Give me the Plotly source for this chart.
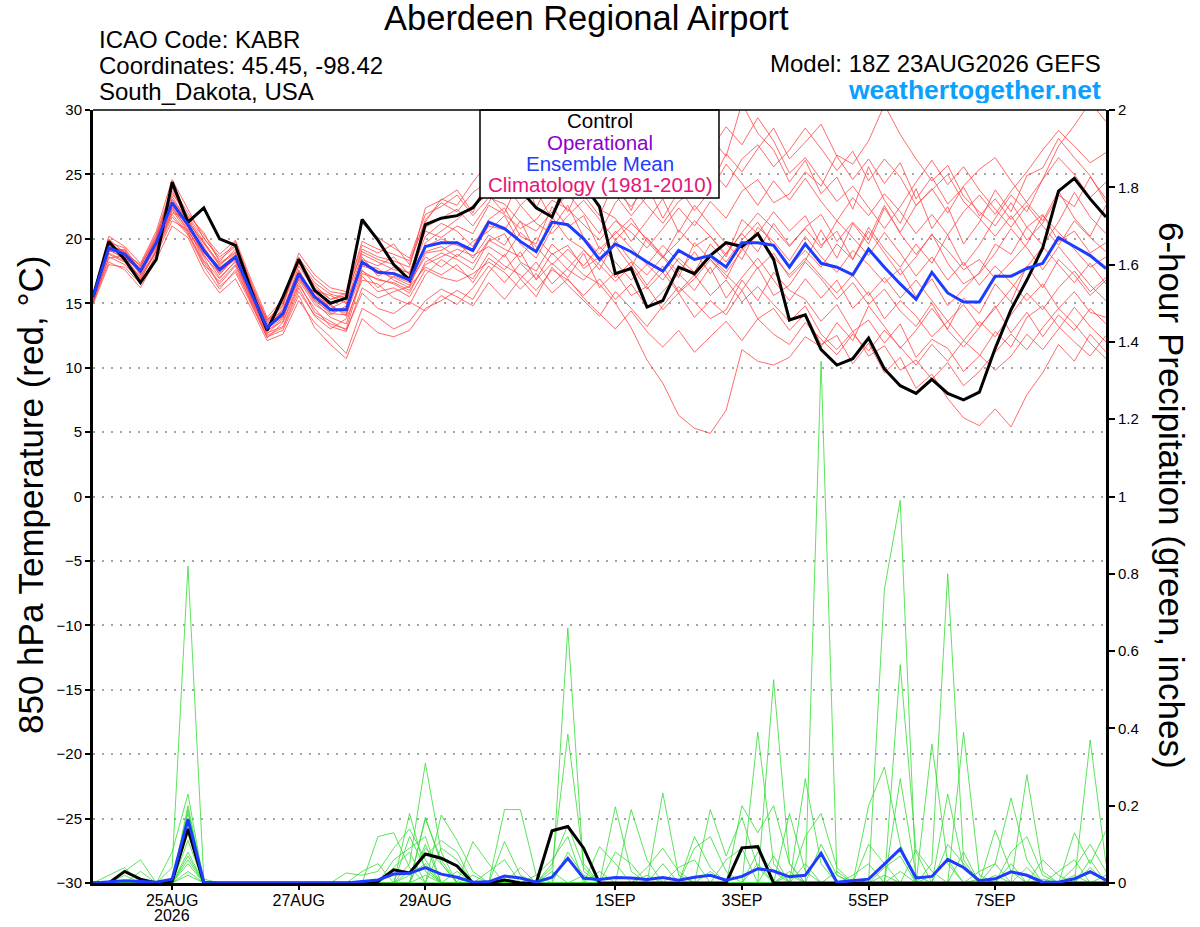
import pandas as pd
import plotly.graph_objects as go

# ---------------- data ----------------
times = pd.date_range("2026-08-23 18:00", periods=65, freq="6h")

tick_dates = ["2026-08-25", "2026-08-27", "2026-08-29", "2026-09-01",
              "2026-09-03", "2026-09-05", "2026-09-07"]
tick_labels = ["25AUG", "27AUG", "29AUG", "1SEP", "3SEP", "5SEP", "7SEP"]
year_label = "2026"

temp_ticks = [-30, -25, -20, -15, -10, -5, 0, 5, 10, 15, 20, 25, 30]
precip_ticks = [0, 0.2, 0.4, 0.6, 0.8, 1.0, 1.2, 1.4, 1.6, 1.8, 2.0]
precip_tick_labels = ["0", "0.2", "0.4", "0.6", "0.8", "1", "1.2", "1.4", "1.6", "1.8", "2"]

control_temp = [15.5, 19.8, 18.4, 16.6, 18.4, 24.4, 21.3, 22.4, 20.0, 19.5, 16.0, 12.9, 15.5,
                18.4, 16.0, 15.0, 15.4, 21.5, 19.9, 18.0, 16.8, 21.1, 21.6, 21.8, 22.4, 24.0,
                24.6, 23.8, 22.4, 21.7, 24.5, 24.2, 22.5, 17.3, 17.7, 14.7, 15.2, 17.8, 17.3,
                18.7, 19.7, 19.4, 20.4, 18.4, 13.7, 14.1, 11.4, 10.2, 10.7, 12.3, 9.9, 8.6, 8.0,
                9.1, 8.0, 7.5, 8.1, 11.5, 14.5, 16.8, 19.3, 23.7, 24.7, 23.1, 21.7]

mean_temp = [15.5, 19.3, 18.8, 17.5, 19.7, 22.8, 21.1, 19.1, 17.6, 18.6, 15.8, 13.1, 14.2,
             17.3, 15.5, 14.5, 14.5, 18.2, 17.4, 17.3, 16.8, 19.4, 19.7, 19.7, 19.1, 21.3,
             20.8, 19.8, 19.0, 21.3, 21.1, 20.0, 18.4, 19.6, 19.0, 18.2, 17.5, 19.1, 18.4,
             18.7, 17.8, 19.7, 19.7, 19.5, 17.8, 19.6, 18.1, 17.8, 17.2, 19.2, 17.8, 16.5, 15.3,
             17.4, 15.8, 15.1, 15.1, 17.1, 17.1, 17.7, 18.1, 20.1, 19.4, 18.7, 17.7]

control_precip = [0, 0, 0.03, 0.01, 0, 0.005, 0.14, 0, 0, 0, 0, 0, 0,
                  0, 0, 0, 0, 0, 0.004, 0.034, 0.026, 0.075, 0.064, 0.044, 0, 0,
                  0.008, 0, 0, 0.135, 0.146, 0.09, 0, 0, 0, 0, 0, 0, 0,
                  0, 0, 0.091, 0.094, 0, 0, 0, 0, 0, 0, 0, 0, 0,
                  0, 0, 0, 0, 0, 0, 0, 0, 0, 0, 0, 0, 0]

mean_precip = [0, 0.003, 0.006, 0.004, 0.002, 0.01, 0.165, 0.002, 0, 0, 0, 0, 0,
               0, 0, 0, 0, 0.004, 0.008, 0.023, 0.025, 0.04, 0.023, 0.015, 0.002, 0.003,
               0.018, 0.013, 0.002, 0.015, 0.064, 0.012, 0.009, 0.014, 0.013, 0.009, 0.014, 0.007, 0.015,
               0.02, 0.007, 0.017, 0.037, 0.031, 0.016, 0.02, 0.077, 0.002, 0.006, 0.01, 0.049, 0.088,
               0.013, 0.017, 0.061, 0.04, 0.006, 0.011, 0.029, 0.02, 0.002, 0.002, 0.011, 0.029, 0.007]

member_temps = [
    [15.2, 19.9, 18.5, 17.8, 20.3, 23.5, 21.8, 20.5, 18.2, 19.8, 16.5,
     13.4, 14.8, 18.6, 16.2, 15.3, 15.8, 19.5, 18.9, 19.6, 18.0, 21.5, 22.8, 22.1, 23.6,
     24.5, 23.2, 25.8, 22.4, 24.9, 26.3, 23.4, 21.8, 24.6, 22.2, 25.1, 23.5, 26.8, 25.2, 27.9, 26.4, 30.5, 28.2, 26.9, 24.4,
     26.1, 23.5, 24.8, 22.3, 25.6, 23.0, 21.2, 23.9, 20.8, 22.5, 19.6, 21.3, 23.8, 22.1, 24.9, 25.5, 27.8, 26.3, 24.9, 22.8],
    [15.4, 19.0, 19.2, 17.2, 19.4, 22.5, 20.6, 18.8, 17.0, 18.2, 15.2,
     12.6, 13.8, 17.0, 15.1, 13.9, 13.4, 17.3, 16.9, 16.5, 15.8, 18.2, 18.9, 18.4, 17.6,
     19.8, 20.4, 18.2, 17.5, 19.6, 18.4, 17.2, 16.5, 15.0, 13.1, 10.6, 8.8, 6.3, 5.3, 4.9, 6.7, 11.4, 10.5, 10.2, 10.8,
     12.4, 11.6, 13.5, 12.1, 14.8, 13.2, 11.5, 12.9, 14.6, 13.0, 15.4, 14.2, 16.5, 15.1, 17.9, 16.2, 18.4, 17.2, 15.6, 16.8],
    [15.0, 18.6, 18.0, 16.8, 19.1, 21.9, 20.4, 18.2, 16.5, 17.9, 15.0,
     12.3, 13.5, 16.4, 14.6, 13.2, 12.8, 16.2, 15.4, 15.9, 16.3, 17.8, 17.2, 18.0, 16.6,
     18.5, 17.6, 19.0, 16.8, 18.1, 17.0, 18.9, 16.2, 17.4, 15.6, 16.3, 14.5, 15.8, 13.9, 15.2, 14.1, 16.0, 13.8, 14.6, 12.9,
     14.2, 11.8, 12.5, 10.3, 11.9, 9.6, 10.8, 8.4, 9.5, 7.6, 6.1, 5.5, 6.8, 5.4, 7.9, 9.6, 11.8, 10.5, 12.6, 11.2],
    [15.6, 19.5, 19.0, 17.9, 20.0, 23.1, 21.4, 19.6, 17.9, 19.2, 16.2,
     13.8, 14.3, 17.9, 16.0, 15.6, 15.0, 18.8, 18.2, 17.6, 17.4, 20.6, 20.1, 21.0, 20.4,
     22.6, 21.9, 20.8, 21.5, 23.0, 22.3, 21.1, 19.9, 21.4, 20.5, 19.3, 20.8, 22.4, 21.0, 22.9, 21.6, 23.7, 24.6, 22.8, 23.5,
     25.2, 24.1, 26.5, 25.8, 27.6, 30.4, 28.1, 26.2, 24.5, 25.7, 23.3, 22.1, 21.0, 22.8, 20.9, 21.9, 19.8, 20.6, 18.9, 19.7],
    [15.1, 18.2, 17.6, 16.2, 18.4, 21.0, 20.1, 17.5, 15.8, 16.9, 14.6,
     12.1, 12.6, 15.2, 13.5, 12.4, 11.1, 14.6, 13.9, 13.0, 13.6, 15.2, 16.1, 15.5, 14.8,
     16.6, 15.3, 16.9, 15.5, 17.8, 16.4, 15.2, 14.0, 15.9, 14.6, 13.2, 14.8, 16.3, 15.1, 13.8, 14.5, 16.8, 15.2, 17.4, 16.0,
     15.3, 13.6, 14.9, 12.8, 13.7, 11.9, 13.4, 10.8, 12.2, 11.5, 9.7, 10.9, 12.8, 11.6, 13.9, 14.8, 13.2, 12.0, 10.9, 12.5],
    [15.3, 19.6, 18.9, 17.4, 19.9, 24.1, 21.0, 19.3, 17.2, 18.7, 15.9,
     13.2, 14.6, 17.6, 15.4, 14.8, 14.2, 18.6, 17.1, 17.8, 17.0, 20.2, 21.2, 20.6, 19.4,
     21.5, 22.4, 20.2, 19.6, 22.5, 20.9, 21.8, 19.2, 20.4, 21.6, 19.8, 18.5, 20.7, 19.4, 20.2, 18.6, 21.5, 20.4, 22.1, 20.6,
     21.8, 19.5, 20.6, 18.4, 20.9, 19.2, 17.8, 19.6, 18.1, 20.3, 17.9, 19.5, 21.6, 23.4, 22.1, 24.6, 27.2, 28.8, 30.6, 29.1],
    [15.7, 20.2, 19.4, 18.1, 20.6, 24.6, 22.3, 20.0, 18.6, 19.5, 16.6,
     13.6, 15.1, 18.3, 16.6, 15.7, 15.4, 19.2, 18.6, 18.3, 17.8, 22.4, 23.0, 23.8, 22.0,
     25.1, 24.3, 22.6, 23.8, 21.5, 25.7, 24.4, 22.3, 21.6, 19.8, 21.4, 23.1, 20.5, 22.6, 21.1, 19.6, 18.4, 20.9, 19.8, 18.3,
     20.2, 18.6, 17.4, 19.1, 18.0, 16.6, 17.7, 15.5, 16.9, 14.8, 16.1, 17.4, 19.6, 18.8, 20.9, 19.5, 21.3, 23.6, 21.7, 20.4],
    [14.9, 18.0, 17.8, 16.5, 18.8, 21.4, 20.7, 18.6, 16.3, 17.4, 14.9,
     12.4, 12.9, 15.6, 13.1, 11.8, 10.7, 13.8, 12.7, 12.4, 12.9, 14.6, 15.2, 16.0, 15.3,
     17.4, 18.8, 16.9, 18.2, 16.5, 17.7, 19.1, 18.0, 16.7, 17.9, 16.1, 17.4, 15.8, 16.9, 18.4, 17.2, 16.0, 17.8, 15.6, 16.4,
     18.2, 16.9, 15.3, 16.6, 14.9, 16.1, 14.4, 13.2, 15.0, 12.9, 11.6, 13.1, 14.8, 12.7, 14.3, 12.4, 14.1, 12.9, 14.6, 13.4],
    [15.5, 19.1, 18.6, 17.6, 19.5, 22.0, 21.6, 19.8, 18.0, 18.9, 16.1,
     13.0, 14.0, 17.2, 15.8, 14.6, 15.2, 18.0, 17.7, 16.8, 16.2, 19.7, 20.6, 21.5, 22.6,
     23.4, 22.0, 24.8, 23.1, 26.2, 27.4, 25.0, 26.7, 23.8, 22.5, 24.2, 21.6, 23.7, 25.3, 24.1, 26.6, 25.2, 27.0, 28.6, 26.2,
     27.5, 28.9, 26.4, 24.6, 26.2, 24.3, 25.9, 23.1, 24.8, 22.7, 24.0, 21.8, 23.1, 21.5, 22.9, 24.6, 26.3, 25.0, 23.2, 24.4],
    [15.2, 18.8, 18.2, 17.0, 19.2, 22.3, 20.8, 18.3, 16.9, 18.3, 15.5,
     12.8, 13.9, 16.8, 14.9, 14.1, 14.8, 17.6, 16.2, 17.1, 16.6, 18.6, 17.8, 18.8, 18.1,
     19.9, 19.2, 18.6, 20.1, 18.8, 19.5, 17.7, 18.6, 17.0, 18.2, 16.4, 17.9, 15.9, 17.2, 15.6, 16.8, 15.1, 16.3, 14.9, 13.6,
     14.8, 12.6, 11.4, 12.8, 10.9, 11.7, 9.8, 10.6, 9.1, 10.4, 8.6, 9.7, 11.2, 12.6, 11.4, 13.1, 14.6, 13.4, 11.9, 10.7],
    [15.4, 19.4, 19.1, 17.3, 19.8, 23.0, 21.2, 19.0, 17.4, 18.5, 15.6,
     13.3, 14.2, 17.4, 15.6, 14.9, 14.0, 18.4, 17.9, 18.6, 17.2, 19.0, 19.4, 18.6, 19.8,
     20.6, 21.8, 19.6, 18.5, 20.8, 22.6, 20.1, 18.8, 20.6, 19.3, 18.0, 16.8, 18.5, 17.4, 19.6, 18.2, 19.9, 21.3, 19.4, 17.9,
     19.1, 17.8, 19.6, 18.4, 20.6, 18.9, 17.2, 18.6, 20.4, 18.1, 16.5, 17.3, 18.9, 20.8, 19.3, 17.6, 19.4, 17.9, 16.4, 15.2],
    [15.0, 19.2, 18.4, 17.7, 19.3, 22.6, 20.9, 18.9, 17.7, 18.8, 15.7,
     13.1, 14.5, 17.1, 15.2, 14.3, 14.6, 17.9, 17.5, 17.0, 16.4, 18.9, 19.1, 19.8, 18.5,
     20.3, 19.5, 21.4, 18.9, 21.7, 20.0, 19.2, 17.6, 19.9, 18.3, 17.2, 18.6, 17.0, 19.7, 18.4, 16.9, 19.3, 17.7, 18.9, 17.0,
     18.3, 20.7, 18.5, 21.2, 19.6, 22.4, 20.5, 22.6, 23.9, 22.0, 24.1, 25.4, 26.3, 24.5, 22.8, 21.4, 23.7, 21.6, 20.2, 22.6],
    [15.6, 19.7, 19.3, 17.5, 20.1, 23.7, 21.5, 19.4, 17.5, 18.4, 15.3,
     12.9, 13.6, 16.6, 14.3, 13.6, 12.9, 15.8, 14.6, 14.2, 15.1, 14.4, 15.6, 14.9, 16.2,
     17.9, 16.6, 18.1, 16.9, 18.9, 17.6, 16.8, 18.2, 19.5, 17.8, 20.1, 18.7, 17.4, 19.0, 17.3, 18.9, 20.4, 19.0, 21.2, 19.5,
     20.8, 19.3, 21.4, 20.1, 18.7, 20.5, 18.9, 17.1, 18.6, 16.8, 18.2, 16.4, 17.9, 16.6, 15.2, 16.5, 14.6, 15.9, 14.3, 13.9],
    [15.3, 20.0, 18.9, 18.0, 20.4, 24.0, 22.0, 20.3, 18.8, 19.9, 16.8,
     13.9, 15.3, 18.9, 17.2, 16.2, 15.9, 21.2, 20.1, 19.3, 18.5, 21.9, 22.5, 23.4, 21.8,
     23.2, 22.7, 21.3, 20.6, 22.1, 23.5, 22.0, 20.4, 22.8, 24.1, 22.6, 21.2, 22.9, 23.8, 25.4, 24.0, 26.2, 27.3, 25.6, 26.9,
     28.6, 27.0, 25.3, 26.8, 24.5, 26.2, 24.8, 22.6, 23.8, 25.0, 22.9, 21.6, 20.2, 21.8, 19.9, 21.2, 23.4, 22.5, 24.8, 23.1],
    [15.1, 18.5, 18.7, 16.9, 19.0, 22.2, 20.5, 18.0, 16.7, 18.0, 15.4,
     12.7, 13.2, 16.2, 14.0, 13.0, 13.8, 16.8, 16.5, 15.4, 14.9, 17.2, 18.4, 17.6, 16.9,
     18.9, 17.9, 17.2, 16.0, 17.6, 16.8, 15.6, 16.9, 15.3, 16.5, 14.7, 15.9, 17.3, 16.0, 17.8, 15.4, 17.0, 18.5, 16.8, 15.2,
     16.9, 15.4, 16.8, 14.6, 15.9, 13.8, 15.2, 14.0, 12.4, 13.6, 12.1, 11.0, 9.8, 10.9, 12.6, 11.4, 13.0, 14.7, 13.2, 12.0],
    [15.5, 19.3, 18.8, 17.2, 19.6, 22.9, 21.1, 19.2, 17.8, 18.6, 15.9,
     13.2, 14.0, 17.5, 15.6, 14.6, 14.4, 18.1, 17.3, 17.4, 16.9, 19.4, 20.0, 19.5, 19.0,
     21.0, 20.7, 22.6, 21.2, 20.4, 21.8, 23.0, 21.5, 19.9, 21.2, 20.0, 18.6, 19.8, 21.4, 20.2, 18.8, 20.5, 22.0, 20.8, 19.4,
     20.9, 21.9, 19.8, 21.3, 20.0, 22.6, 20.4, 18.8, 20.3, 19.1, 17.6, 18.4, 16.9, 18.2, 19.6, 21.8, 20.5, 19.2, 17.8, 18.6],
    [15.4, 19.5, 19.0, 17.6, 19.9, 23.3, 21.3, 19.7, 18.1, 19.0, 16.0,
     13.5, 14.9, 18.1, 16.4, 15.3, 15.6, 19.0, 18.4, 18.0, 17.3, 20.9, 21.6, 22.3, 21.0,
     22.8, 25.0, 23.6, 24.9, 27.6, 24.8, 23.1, 25.2, 23.4, 21.8, 23.3, 25.1, 24.0, 22.2, 23.7, 25.8, 24.3, 22.6, 24.5, 23.0,
     24.7, 22.9, 21.4, 23.2, 21.8, 23.5, 22.1, 20.4, 21.9, 20.3, 22.1, 23.4, 21.9, 23.7, 25.2, 26.9, 28.4, 27.2, 25.9, 26.7],
    [15.2, 18.9, 18.3, 17.1, 19.0, 21.7, 20.3, 17.9, 16.1, 17.6, 15.1,
     12.5, 13.1, 15.9, 14.1, 13.4, 13.0, 17.1, 15.9, 16.2, 15.5, 17.6, 17.0, 16.7, 17.3,
     18.2, 17.4, 16.1, 17.3, 15.8, 16.9, 15.4, 14.2, 13.0, 14.4, 12.8, 11.6, 12.9, 11.2, 12.4, 13.6, 12.1, 13.8, 12.6, 11.8,
     13.5, 12.2, 11.0, 12.6, 11.3, 12.9, 11.6, 10.2, 11.8, 10.5, 12.1, 13.6, 12.4, 14.1, 15.8, 14.5, 16.2, 17.5, 15.9, 17.0],
    [15.3, 19.1, 18.9, 17.9, 20.1, 23.9, 21.7, 20.1, 18.4, 19.4, 16.3,
     13.7, 15.0, 18.5, 16.9, 15.9, 15.7, 19.8, 19.2, 18.8, 18.3, 21.3, 23.1, 22.6, 24.4,
     26.0, 24.8, 23.4, 25.6, 23.9, 22.1, 24.7, 25.9, 23.5, 24.9, 26.4, 27.2, 25.6, 24.3, 26.9, 28.7, 27.3, 29.4, 27.6, 25.1,
     26.3, 24.6, 22.9, 24.1, 22.4, 20.8, 22.5, 24.4, 26.1, 24.2, 25.6, 23.8, 22.3, 20.9, 22.6, 21.0, 19.5, 21.4, 20.1, 19.0],
    [15.6, 19.4, 18.6, 17.5, 19.5, 22.4, 21.0, 18.7, 17.3, 18.5, 15.6,
     13.0, 14.4, 16.9, 15.3, 14.2, 14.1, 17.5, 16.8, 16.6, 16.0, 18.0, 18.6, 19.2, 18.7,
     19.4, 18.6, 20.5, 19.4, 18.0, 19.2, 17.9, 19.4, 18.2, 16.8, 18.0, 19.5, 18.2, 17.1, 18.6, 17.4, 19.1, 20.3, 18.6, 17.2,
     18.5, 17.1, 15.8, 17.2, 15.6, 17.0, 15.4, 16.8, 15.2, 13.6, 14.9, 13.2, 14.6, 16.1, 17.8, 19.4, 18.0, 16.6, 18.1, 16.5],
]

member_precips = [
    [0, 0, 0.03, 0.06, 0, 0.04, 0.82, 0.01, 0, 0, 0, 0, 0,
     0, 0, 0, 0, 0, 0, 0, 0.05, 0.31, 0.08, 0, 0, 0,
     0, 0, 0, 0, 0.66, 0.03, 0, 0, 0, 0, 0, 0, 0,
     0, 0, 0, 0, 0, 0, 0, 1.35, 0.02, 0, 0, 0, 0,
     0, 0, 0, 0, 0, 0.05, 0.22, 0.06, 0, 0, 0, 0, 0],
    [0, 0, 0, 0, 0, 0.08, 0.23, 0, 0, 0, 0, 0, 0,
     0, 0, 0, 0, 0, 0.12, 0.13, 0.04, 0, 0, 0, 0, 0,
     0.19, 0.19, 0.02, 0, 0, 0, 0, 0, 0, 0, 0, 0, 0,
     0, 0, 0, 0, 0, 0, 0, 0, 0, 0, 0, 0.76, 0.99,
     0, 0, 0, 0, 0, 0, 0, 0, 0, 0, 0, 0.37, 0.05],
    [0, 0, 0, 0, 0, 0, 0.20, 0, 0, 0, 0, 0, 0,
     0, 0, 0, 0, 0, 0, 0, 0, 0.17, 0.05, 0, 0, 0,
     0, 0, 0, 0.04, 0.385, 0.05, 0, 0, 0, 0, 0, 0, 0,
     0, 0, 0, 0.39, 0.05, 0, 0, 0, 0, 0, 0, 0, 0,
     0, 0.05, 0.80, 0.06, 0, 0, 0, 0, 0, 0, 0, 0, 0],
    [0, 0, 0, 0, 0, 0, 0.19, 0, 0, 0, 0, 0, 0,
     0, 0, 0, 0, 0, 0, 0, 0.18, 0.03, 0, 0, 0, 0,
     0, 0, 0, 0, 0, 0, 0, 0.197, 0.03, 0, 0, 0, 0,
     0, 0, 0, 0, 0.526, 0.05, 0, 0, 0, 0, 0, 0, 0.565,
     0.08, 0, 0, 0, 0, 0, 0, 0, 0, 0, 0, 0, 0],
    [0, 0.02, 0.04, 0, 0, 0, 0.18, 0, 0, 0, 0, 0, 0,
     0, 0, 0, 0, 0, 0, 0, 0, 0, 0.176, 0.11, 0.03, 0,
     0, 0, 0, 0, 0, 0, 0, 0, 0, 0, 0.233, 0.02, 0,
     0, 0, 0, 0, 0, 0, 0, 0, 0, 0, 0, 0, 0,
     0, 0, 0, 0.39, 0.02, 0, 0, 0.28, 0.03, 0, 0, 0, 0],
    [0, 0, 0, 0, 0, 0, 0.16, 0, 0, 0, 0, 0, 0,
     0, 0, 0, 0, 0, 0, 0.06, 0.09, 0.12, 0, 0, 0.107, 0.05,
     0, 0, 0, 0, 0, 0, 0, 0, 0.19, 0.06, 0, 0, 0,
     0, 0, 0, 0, 0, 0, 0.27, 0.05, 0, 0, 0, 0, 0,
     0, 0.36, 0.05, 0, 0, 0, 0, 0, 0, 0, 0, 0, 0],
    [0, 0, 0, 0.03, 0, 0, 0.15, 0, 0, 0, 0, 0, 0,
     0, 0, 0, 0, 0.03, 0.05, 0, 0, 0.165, 0.06, 0, 0, 0,
     0, 0, 0, 0, 0, 0, 0, 0, 0, 0, 0, 0, 0,
     0.19, 0.07, 0.17, 0.04, 0, 0, 0, 0, 0, 0, 0, 0, 0.27,
     0.02, 0, 0, 0, 0, 0, 0, 0, 0, 0, 0.13, 0.05, 0.135],
    [0, 0, 0, 0, 0, 0, 0.13, 0, 0, 0, 0, 0, 0,
     0, 0, 0, 0, 0, 0, 0, 0, 0, 0.09, 0.06, 0, 0,
     0.107, 0.02, 0, 0, 0, 0, 0.094, 0.05, 0, 0, 0, 0, 0.12,
     0.04, 0, 0, 0, 0, 0.18, 0.03, 0, 0, 0, 0, 0, 0,
     0, 0, 0.23, 0.04, 0, 0.137, 0.03, 0, 0, 0, 0, 0, 0],
    [0, 0, 0, 0, 0, 0, 0.08, 0, 0, 0, 0, 0, 0,
     0, 0, 0, 0.026, 0.02, 0.03, 0.09, 0.14, 0.06, 0, 0, 0, 0,
     0, 0, 0, 0.05, 0.15, 0.04, 0, 0, 0, 0, 0, 0, 0,
     0, 0, 0.2, 0.13, 0.2, 0.05, 0, 0, 0, 0, 0.2, 0.3, 0.1,
     0, 0, 0, 0, 0, 0, 0.08, 0.12, 0.02, 0, 0, 0, 0],
    [0, 0, 0, 0, 0, 0, 0.07, 0, 0, 0, 0, 0, 0,
     0, 0, 0, 0, 0, 0, 0, 0.03, 0.07, 0.11, 0.08, 0, 0,
     0, 0, 0, 0, 0, 0, 0, 0, 0, 0.04, 0.09, 0.03, 0,
     0, 0, 0, 0, 0, 0, 0.12, 0.18, 0.04, 0, 0.1, 0.05, 0,
     0, 0, 0.1, 0.05, 0, 0, 0, 0, 0, 0, 0.04, 0.1, 0.03],
    [0, 0, 0, 0, 0, 0, 0.05, 0, 0, 0, 0, 0, 0,
     0, 0, 0, 0, 0, 0, 0.04, 0.08, 0, 0, 0, 0, 0.03,
     0.06, 0, 0, 0, 0.08, 0.02, 0, 0, 0, 0, 0, 0, 0.09,
     0.12, 0.03, 0, 0, 0, 0, 0, 0.1, 0.02, 0, 0, 0, 0,
     0.085, 0.03, 0, 0, 0, 0, 0, 0, 0.06, 0.02, 0, 0, 0],
    [0, 0, 0.02, 0, 0, 0, 0.03, 0, 0, 0, 0, 0, 0,
     0, 0, 0, 0, 0, 0, 0, 0, 0.09, 0.05, 0, 0, 0,
     0, 0, 0.02, 0.06, 0.12, 0, 0, 0.08, 0.05, 0, 0, 0, 0,
     0, 0, 0, 0.08, 0.03, 0, 0, 0, 0, 0, 0, 0.04, 0.07,
     0, 0, 0, 0, 0.03, 0.05, 0, 0, 0, 0.03, 0.06, 0, 0],
    [0, 0, 0, 0, 0, 0, 0.11, 0, 0, 0, 0, 0, 0,
     0, 0, 0, 0, 0, 0, 0, 0.12, 0.04, 0, 0, 0, 0,
     0, 0.04, 0, 0, 0, 0, 0.03, 0, 0, 0, 0.05, 0, 0,
     0, 0.06, 0.09, 0, 0, 0.03, 0, 0, 0, 0.02, 0.05, 0, 0,
     0, 0, 0, 0.08, 0, 0, 0.05, 0, 0, 0, 0, 0.04, 0],
    [0, 0, 0, 0, 0, 0, 0.14, 0, 0, 0, 0, 0, 0,
     0, 0, 0, 0, 0, 0, 0, 0, 0.1, 0, 0, 0.02, 0,
     0, 0, 0, 0.03, 0, 0, 0, 0, 0, 0, 0, 0.04, 0.06,
     0, 0, 0, 0, 0.07, 0, 0.05, 0, 0.03, 0, 0, 0, 0,
     0, 0.02, 0.06, 0, 0, 0, 0, 0.04, 0, 0, 0, 0, 0.02],
    [0, 0, 0, 0, 0, 0, 0.02, 0, 0, 0, 0, 0, 0,
     0, 0, 0, 0, 0, 0, 0, 0.02, 0.05, 0, 0.03, 0, 0,
     0, 0, 0, 0, 0, 0.02, 0, 0, 0, 0, 0, 0, 0,
     0.03, 0, 0, 0.05, 0, 0, 0, 0, 0, 0.01, 0, 0, 0.03,
     0, 0, 0, 0, 0.01, 0, 0, 0, 0.01, 0, 0, 0.06, 0],
    [0, 0, 0, 0, 0, 0, 0.06, 0, 0, 0, 0, 0, 0,
     0, 0, 0, 0, 0, 0, 0, 0, 0.02, 0, 0, 0, 0,
     0.01, 0, 0, 0, 0, 0, 0, 0, 0, 0.02, 0, 0, 0,
     0, 0, 0, 0, 0, 0.02, 0, 0, 0, 0, 0, 0.02, 0,
     0, 0, 0, 0, 0, 0.02, 0, 0, 0, 0, 0.02, 0, 0],
]

for s in [control_temp, mean_temp, control_precip, mean_precip] + member_temps + member_precips:
    assert len(s) == len(times), len(s)

# ---------------- styles ----------------
FONT = "Liberation Sans, Arial, sans-serif"
RED = "rgb(255,70,70)"
GREEN = "rgb(50,220,50)"
BLUE = "rgb(30,60,255)"

fig = go.Figure()

for m in member_temps:
    fig.add_trace(go.Scatter(x=times, y=m, mode="lines", yaxis="y",
                             line=dict(color=RED, width=0.8),
                             hoverinfo="skip", showlegend=False))
for m in member_precips:
    fig.add_trace(go.Scatter(x=times, y=m, mode="lines", yaxis="y2",
                             line=dict(color=GREEN, width=0.8),
                             hoverinfo="skip", showlegend=False))

fig.add_trace(go.Scatter(x=times, y=control_precip, mode="lines", yaxis="y2",
                         line=dict(color="black", width=3), showlegend=False))
fig.add_trace(go.Scatter(x=times, y=control_temp, mode="lines", yaxis="y",
                         line=dict(color="black", width=3), showlegend=False))
fig.add_trace(go.Scatter(x=times, y=mean_precip, mode="lines", yaxis="y2",
                         line=dict(color=BLUE, width=3), showlegend=False))
fig.add_trace(go.Scatter(x=times, y=mean_temp, mode="lines", yaxis="y",
                         line=dict(color=BLUE, width=3), showlegend=False))

W, H = 1200, 927
L, R, T, B = 93, 1106, 110, 883


def px(xp):
    return (xp - L) / (R - L)


def py(yp):
    return (B - yp) / (B - T)


annotations = [
    dict(text="Aberdeen Regional Airport", x=px(586), y=py(18), xanchor="center",
         yanchor="middle", font=dict(size=34.5, color="black")),
    dict(text="ICAO Code: KABR", x=px(97), y=py(40), xanchor="left", yanchor="middle",
         font=dict(size=24, color="black")),
    dict(text="Coordinates: 45.45, -98.42", x=px(97), y=py(66), xanchor="left",
         yanchor="middle", font=dict(size=24, color="black")),
    dict(text="South_Dakota, USA", x=px(97), y=py(92), xanchor="left", yanchor="middle",
         font=dict(size=24, color="black")),
    dict(text="Model: 18Z 23AUG2026 GEFS", x=px(1103), y=py(63), xanchor="right",
         yanchor="middle", font=dict(size=24, color="black"), height=24),
    dict(text="<b>weathertogether.net</b>", x=px(1103), y=py(90), xanchor="right",
         yanchor="middle", font=dict(size=26.5, color="rgb(10,160,255)"), height=26),
    dict(text="Control", x=0.5, y=py(121), xanchor="center", yanchor="middle",
         font=dict(size=20.5, color="black")),
    dict(text="Operational", x=0.5, y=py(142), xanchor="center", yanchor="middle",
         font=dict(size=20.5, color="rgb(140,0,210)")),
    dict(text="Ensemble Mean", x=0.5, y=py(163), xanchor="center", yanchor="middle",
         font=dict(size=20.5, color=BLUE)),
    dict(text="Climatology (1981-2010)", x=0.5, y=py(185), xanchor="center",
         yanchor="middle", font=dict(size=20.5, color="rgb(230,20,120)")),
    dict(text="850 hPa Temperature (red, °C)", x=px(30), y=py(495), xanchor="center",
         yanchor="middle", textangle=-90, font=dict(size=35, color="black")),
    dict(text="6-hour Precipitation (green, inches)", x=px(1172), y=py(495),
         xanchor="center", yanchor="middle", textangle=90,
         font=dict(size=35, color="black")),
]
for a in annotations:
    a.update(xref="paper", yref="paper", showarrow=False)

# year line under the first date tick
annotations.append(dict(text=year_label, x=tick_dates[0], xref="x", y=py(915), yref="paper",
                        xanchor="center", yanchor="middle", showarrow=False,
                        font=dict(size=16, color="black")))

shapes = [
    dict(type="rect", xref="paper", yref="paper", x0=px(480), x1=px(719),
         y0=py(198), y1=1.0, fillcolor="white", line=dict(color="black", width=1.5),
         layer="above"),
    dict(type="line", xref="paper", yref="paper", x0=0, x1=1, y0=1, y1=1,
         line=dict(color="black", width=1.5), layer="above"),
]

fig.update_layout(
    width=W, height=H, autosize=False,
    margin=dict(l=L, r=W - R, t=T, b=H - B, pad=0, autoexpand=False),
    paper_bgcolor="white", plot_bgcolor="white",
    font=dict(family=FONT, color="black"),
    showlegend=False,
    annotations=annotations,
    shapes=shapes,
    xaxis=dict(type="date", range=[times[0], times[-1]],
               tickvals=tick_dates, ticktext=tick_labels, automargin=False,
               ticks="outside", ticklen=4, tickwidth=1.5, tickcolor="black",
               ticklabelstandoff=-3,
               showline=True, linewidth=3, linecolor="black",
               showgrid=False, zeroline=False,
               tickfont=dict(size=16, color="black", family=FONT)),
    yaxis=dict(range=[-30, 30], tickvals=temp_ticks, automargin=False,
               ticks="outside", ticklen=5, tickwidth=1.5, tickcolor="black",
               showline=True, linewidth=3, linecolor="black",
               showgrid=True, gridcolor="rgb(165,165,165)", gridwidth=1.5,
               griddash="2px,7px", zeroline=False,
               tickfont=dict(size=15, color="black", family=FONT)),
    yaxis2=dict(range=[0, 2], overlaying="y", side="right", automargin=False,
                tickvals=precip_ticks, ticktext=precip_tick_labels,
                ticks="outside", ticklen=6, tickwidth=1.5, tickcolor="black",
                showline=True, linewidth=3, linecolor="black",
                showgrid=False, zeroline=False,
                tickfont=dict(size=15, color="black", family=FONT)),
)

fig.write_html("out.html", config={"displayModeBar": False},
               post_script="document.body.style.margin='0';document.body.style.overflow='hidden';")
